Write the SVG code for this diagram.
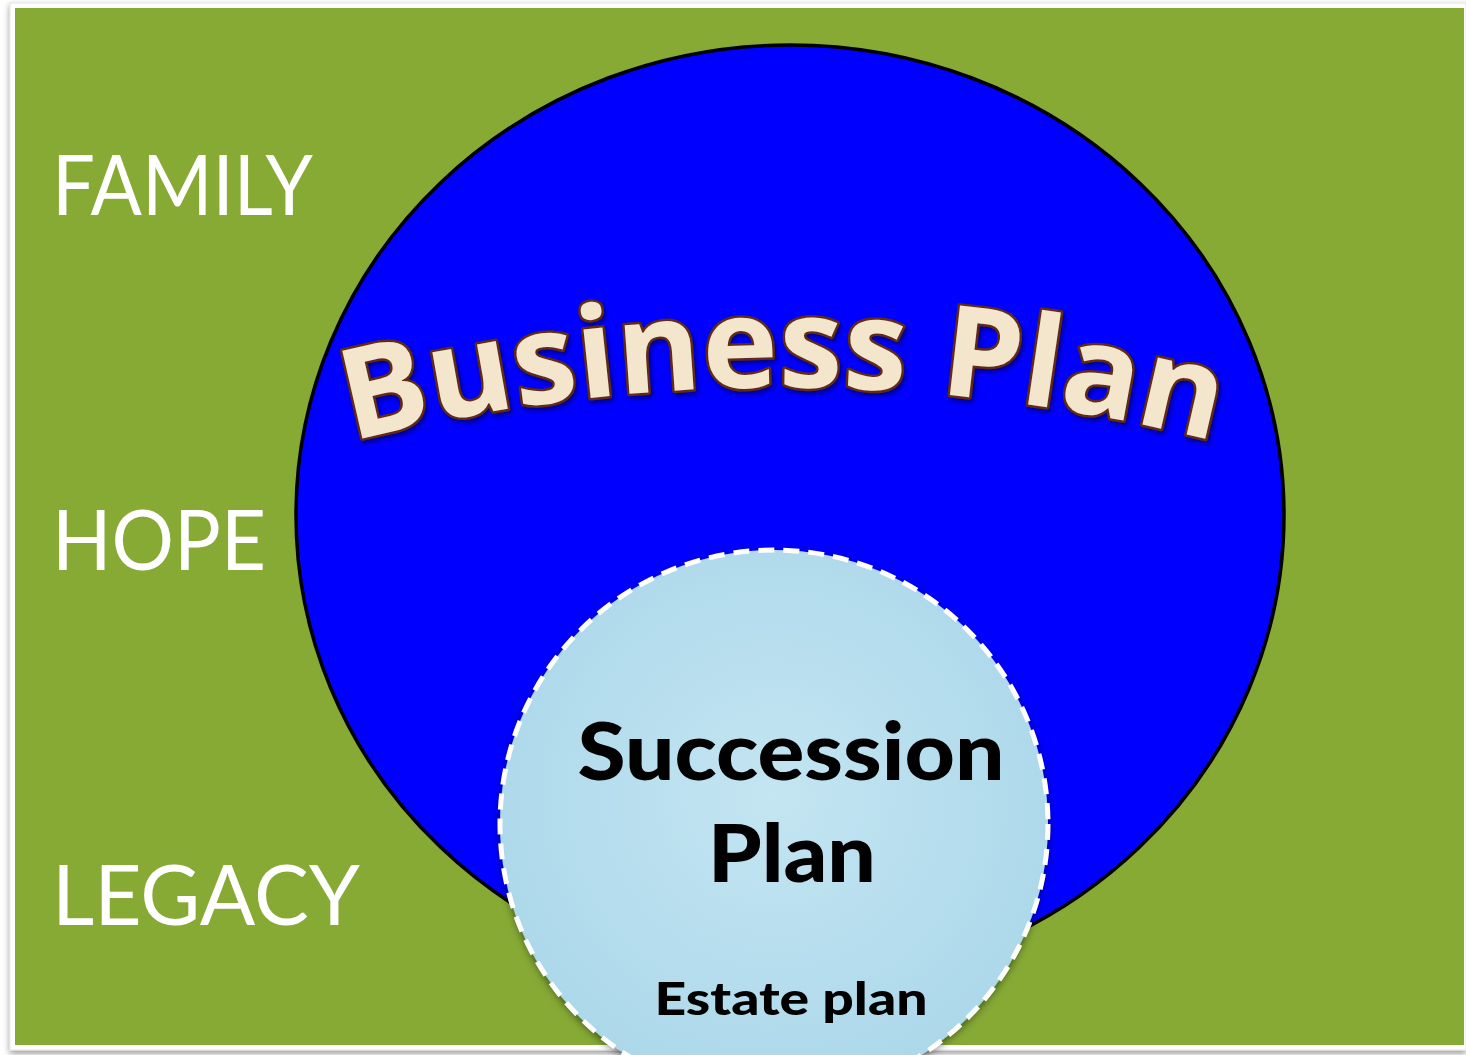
<svg xmlns="http://www.w3.org/2000/svg" width="1466" height="1055" viewBox="0 0 1466 1055">
  <defs>
    <filter id="frameShadow" x="-5%" y="-5%" width="110%" height="110%">
      <feDropShadow dx="0" dy="3" stdDeviation="3" flood-color="#000" flood-opacity="0.4"/>
    </filter>
    <filter id="circleShadow" x="-10%" y="-10%" width="120%" height="120%">
      <feDropShadow dx="0" dy="3" stdDeviation="4" flood-color="#000" flood-opacity="0.55"/>
    </filter>
    <filter id="titleShadow" x="-5%" y="-20%" width="110%" height="140%">
      <feDropShadow dx="2" dy="3" stdDeviation="2" flood-color="#000" flood-opacity="0.45"/>
    </filter>
    <radialGradient id="innerFill" cx="50%" cy="45%" r="55%">
      <stop offset="0" stop-color="#c4e5f2"/>
      <stop offset="1" stop-color="#acd8ea"/>
    </radialGradient>
    <!-- baseline arc for the arched title -->
    <path id="titleArc" d="M 334 446 A 1746 1746 0 0 1 1232 446"/>
    <style>
      .side { font-family: "Lato", "Liberation Sans", sans-serif; font-size: 84px; fill: #ffffff; }
      .title { font-family: "Open Sans", "DejaVu Sans", sans-serif; font-weight: 700; font-size: 126px;
               fill: #f3e6cd; stroke: #5e2a12; stroke-width: 5; paint-order: stroke; stroke-linejoin: round; }
      .inner { font-family: "Lato", "Liberation Sans", sans-serif; font-weight: 900; fill: #000000; text-anchor: middle; }
    </style>
  </defs>

  <rect width="1466" height="1055" fill="#ffffff"/>

  <!-- slide frame -->
  <g id="frame">
    <rect x="10" y="3" width="1456" height="1047" fill="#ffffff" stroke="#e4e4e4" stroke-width="1" filter="url(#frameShadow)"/>
    <rect x="15" y="8" width="1449" height="1037" fill="#86aa34"/>
  </g>

  <!-- side labels -->
  <g id="label-family"><text class="side" x="52" y="215" textLength="261" lengthAdjust="spacingAndGlyphs">FAMILY</text></g>
  <g id="label-hope"><text class="side" x="52" y="570" textLength="214" lengthAdjust="spacingAndGlyphs">HOPE</text></g>
  <g id="label-legacy"><text class="side" x="52" y="925" textLength="308" lengthAdjust="spacingAndGlyphs">LEGACY</text></g>

  <!-- outer circle -->
  <g id="business-plan">
    <ellipse cx="790" cy="515" rx="494" ry="470" fill="#0000ff" stroke="#000000" stroke-width="3.5"/>
    <text class="title" filter="url(#titleShadow)">
      <textPath href="#titleArc" startOffset="50%" text-anchor="middle" textLength="872" lengthAdjust="spacingAndGlyphs">Business Plan</textPath>
    </text>
  </g>

  <!-- inner circle -->
  <g id="succession-plan">
    <circle cx="774" cy="824" r="274" fill="url(#innerFill)" filter="url(#circleShadow)"/>
    <circle cx="774" cy="824" r="274" fill="none" stroke="#ffffff" stroke-width="5" stroke-dasharray="16 9"/>
    <text class="inner" x="791" y="780" font-size="80" textLength="427" lengthAdjust="spacingAndGlyphs">Succession</text>
    <text class="inner" x="792" y="882" font-size="80" textLength="168" lengthAdjust="spacingAndGlyphs">Plan</text>
    <text class="inner" x="791" y="1015" font-size="46" textLength="273" lengthAdjust="spacingAndGlyphs">Estate plan</text>
  </g>

  <g id="connectors"/>
</svg>
